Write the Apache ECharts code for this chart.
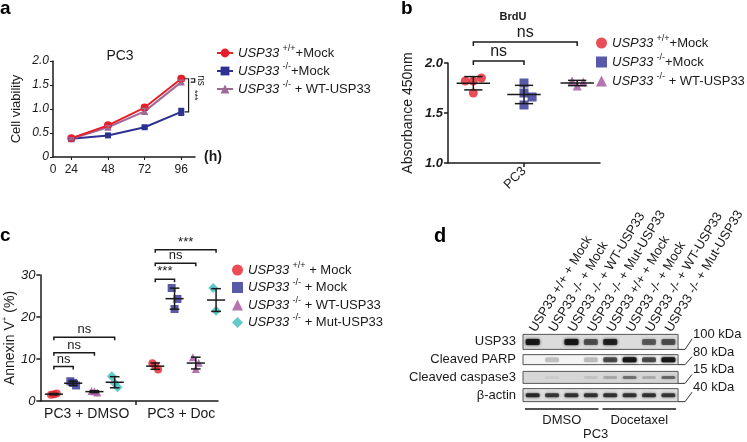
<!DOCTYPE html>
<html><head><meta charset="utf-8">
<script src="https://cdn.jsdelivr.net/npm/echarts@6/dist/echarts.min.js"></script>
<style>html,body{margin:0;padding:0;background:#fff}#c{width:747px;height:442px}</style>
</head><body><div id="c"></div>
<script>
// ================= DATA =================
// Panel a: cell viability (PC3)
const hours = [24, 48, 72, 96];
const hourTickValues = [12, 24, 48, 72, 96];
const hourTickLabels = ['0', '24', '48', '72', '96'];
const viabWT = [0.39, 0.66, 1.03, 1.63];
const viabWTErr = [0.02, 0.04, 0.05, 0.05];
const viabKO = [0.38, 0.45, 0.62, 0.94];
const viabKOErr = [0.02, 0.02, 0.02, 0.07];
const viabRes = [0.38, 0.62, 0.95, 1.56];
const viabResErr = [0.02, 0.03, 0.06, 0.04];
const sigA = [[100.8, 1.63, 0.94], [104.8, 1.63, 1.56]];
const sigALabels = ['***', 'ns'];

// Panel b: BrdU absorbance
const brduWT = [1.82, 1.82, 1.85, 1.70];
const brduKO = [1.80, 1.70, 1.66, 1.58];
const brduRes = [1.82, 1.81, 1.77];
const brduCategory = ['PC3'];
const sigB = [[0.5, 1.5, 2.02], [0.5, 2.55, 2.21]];
const sigBLabels = ['ns', 'ns'];

// Panel c: Annexin V+ (%)
const annexinGroups = ['PC3 + DMSO', 'PC3 + Doc'];
const annexinWT  = [[1.5, 1.8, 1.6], [9.0, 7.5, 8.4]];
const annexinKO  = [[4.7, 3.7, 4.3], [26.9, 24.3, 21.9]];
const annexinRes = [[2.4, 2.0, 2.3], [10.4, 9.1, 7.6]];
const annexinMut = [[5.9, 3.3, 4.2], [26.9, 23.7, 21.5]];
const sigC = [[0, 1, 8.2], [0, 2, 11.5], [0, 3, 15.2], [4, 5, 29.0], [4, 6, 32.8], [4, 7, 36.0]];
const sigCLabels = ['ns', 'ns', 'ns', '***', 'ns', '***'];

// Panel d: western blot
const laneLabels = ['USP33 +/+ + Mock', 'USP33 -/- + Mock', 'USP33 -/- + WT-USP33', 'USP33 -/- + Mut-USP33',
                    'USP33 +/+ + Mock', 'USP33 -/- + Mock', 'USP33 -/- + WT-USP33', 'USP33 -/- + Mut-USP33'];
const blotRows = ['USP33', 'Cleaved PARP', 'Cleaved caspase3', 'β-actin'];
const blotSizes = ['100 kDa', '80 kDa', '15 kDa', '40 kDa'];
const bandUSP33 = [0.92, 0.0, 0.95, 0.6, 0.85, 0.0, 0.55, 0.6];
const bandPARP = [0.0, 0.2, 0.0, 0.22, 0.65, 0.95, 0.65, 0.95];
const bandCasp3 = [0.0, 0.05, 0.0, 0.1, 0.22, 0.45, 0.2, 0.5];
const bandActin = [0.8, 0.72, 0.75, 0.75, 0.75, 0.75, 0.75, 0.72];
const treatments = ['DMSO', 'Docetaxel'];
const treatmentLanes = [[0, 3], [4, 7]];
const cellLine = 'PC3';

// legend texts: [gene, genotype, suffix]
const legendA = [['USP33', '+/+', '+Mock'], ['USP33', '-/-', '+Mock'], ['USP33', '-/-', ' + WT-USP33']];
const legendC = [['USP33', '+/+', ' + Mock'], ['USP33', '-/-', ' + Mock'], ['USP33', '-/-', ' + WT-USP33'], ['USP33', '-/-', ' + Mut-USP33']];

// ================= STYLE =================
const FONT = 'Liberation Sans, Arial, Helvetica, sans-serif';
const INK = '#1a1a1a';
const RED = '#e5202a', BLUE = '#2e3192', MAUVE = '#a06a96', MAG = '#a3519b', CYAN = '#3cbcbc';

const chart = echarts.init(document.getElementById('c'), null, {renderer: 'canvas'});

function mean(a) { return a.reduce((s, v) => s + v, 0) / a.length; }
function sd(a) { const m = mean(a); return Math.sqrt(a.reduce((s, v) => s + (v - m) * (v - m), 0) / (a.length - 1)); }

function legendRich(parts) { return '{i|' + parts[0] + '} {s|' + parts[1] + '}{n|' + parts[2] + '}'; }
const legendRichStyle = {
  i: {fontStyle: 'italic', fontSize: 13, lineHeight: 18, fontFamily: FONT, color: INK},
  s: {fontSize: 9, lineHeight: 9, verticalAlign: 'top', fontFamily: FONT, color: INK},
  n: {fontSize: 13, lineHeight: 18, fontFamily: FONT, color: INK}
};

function errRender(color) {
  return function (params, api) {
    const x = api.value(0), y = api.value(1), e = api.value(2);
    const t = api.coord([x, y + e]), b = api.coord([x, y - e]);
    const st = {stroke: color, lineWidth: 1.5};
    return {type: 'group', children: [
      {type: 'line', shape: {x1: t[0], y1: t[1], x2: b[0], y2: b[1]}, style: st},
      {type: 'line', shape: {x1: t[0] - 3, y1: t[1], x2: t[0] + 3, y2: t[1]}, style: st},
      {type: 'line', shape: {x1: b[0] - 3, y1: b[1], x2: b[0] + 3, y2: b[1]}, style: st}
    ]};
  };
}

function meanSdRender(halfW, capW, lw) {
  return function (params, api) {
    const x = api.value(0), m = api.value(1), s = api.value(2);
    const pm = api.coord([x, m]), pl = api.coord([x - halfW, m]), pr = api.coord([x + halfW, m]);
    const pt = api.coord([x, m + s]), pb = api.coord([x, m - s]);
    const cl = api.coord([x - capW, m]), cr = api.coord([x + capW, m]);
    const st = {stroke: INK, lineWidth: lw};
    return {type: 'group', children: [
      {type: 'line', shape: {x1: pl[0], y1: pm[1], x2: pr[0], y2: pm[1]}, style: st},
      {type: 'line', shape: {x1: pm[0], y1: pt[1], x2: pm[0], y2: pb[1]}, style: st},
      {type: 'line', shape: {x1: cl[0], y1: pt[1], x2: cr[0], y2: pt[1]}, style: st},
      {type: 'line', shape: {x1: cl[0], y1: pb[1], x2: cr[0], y2: pb[1]}, style: st}
    ]};
  };
}

function hBracketRender(labels, fontSize, tick) {
  return function (params, api) {
    const p1 = api.coord([api.value(0), api.value(2)]);
    const p2 = api.coord([api.value(1), api.value(2)]);
    return {type: 'group', children: [
      {type: 'polyline', shape: {points: [[p1[0], p1[1] + tick], [p1[0], p1[1]], [p2[0], p1[1]], [p2[0], p1[1] + tick]]},
       style: {stroke: INK, lineWidth: 1.5, fill: null}},
      {type: 'text', x: (p1[0] + p2[0]) / 2, y: p1[1] - 1,
       style: {text: labels[params.dataIndex], align: 'center', verticalAlign: 'bottom', fontSize: fontSize, fontFamily: FONT, fill: INK}}
    ]};
  };
}

function vBracketRender(params, api) {
  const p1 = api.coord([api.value(0), api.value(1)]);
  const p2 = api.coord([api.value(0), api.value(2)]);
  const lab = sigALabels[params.dataIndex];
  return {type: 'group', children: [
    {type: 'polyline', shape: {points: [[p1[0] - 4, p1[1]], [p1[0], p1[1]], [p1[0], p2[1]], [p1[0] - 4, p2[1]]]},
     style: {stroke: INK, lineWidth: 1.2, fill: null}},
    {type: 'text', x: p1[0] + 6, y: (p1[1] + p2[1]) / 2, rotation: -Math.PI / 2,
     style: {text: lab, align: 'center', verticalAlign: 'middle', fontSize: lab === 'ns' ? 10 : 9, fontFamily: FONT, fill: INK}}
  ]};
}

// ---- panel b points
const jitB = [[-0.16, 0, 0.16, 0], [0, 0, 0.16, 0], [-0.1, 0.12, 0]];
const bPos = [0.5, 1.5, 2.55];
const brduSets = [brduWT, brduKO, brduRes];
function bPoints(k) { return brduSets[k].map((v, i) => [bPos[k] + jitB[k][i], v]); }
const bSummary = brduSets.map((arr, k) => [bPos[k], mean(arr), sd(arr)]);

// ---- panel c points
const cBase = [0.7, 5.95];
const cSlot = [0, 1.0, 2.1, 3.15];
const jitC = [-0.15, 0.15, 0];
const annexinSets = [annexinWT, annexinKO, annexinRes, annexinMut];
function cPoints(m) {
  const out = [];
  annexinSets[m].forEach((vals, g) => vals.forEach((v, i) => out.push([cBase[g] + cSlot[m] + jitC[i], v])));
  return out;
}
const cSummary = [];
annexinSets.forEach((sets, m) => sets.forEach((vals, g) => cSummary.push([cBase[g] + cSlot[m], mean(vals), sd(vals)])));
const cMemberX = [];
cBase.forEach(b => cSlot.forEach(s => cMemberX.push(b + s)));
const sigCData = sigC.map(r => [cMemberX[r[0]], cMemberX[r[1]], r[2]]);

// ---- panel d
const bandSets = [bandUSP33, bandPARP, bandCasp3, bandActin];
const bandData = [];
bandSets.forEach((row, r) => row.forEach((v, l) => bandData.push([l, r, v])));
const frameH = [15, 10, 12, 13];
const frameFill = ['#dcdcdc', '#f3f3f3', '#d6d6d6', '#e0e0e0'];
const bandH = [6, 5, 3, 4];

const axisLine = {lineStyle: {color: INK, width: 1.5}};

const option = {
  animation: false,
  backgroundColor: '#fff',
  textStyle: {fontFamily: FONT},
  title: [{text: 'PC3', left: 115, top: 44, textAlign: 'center',
           textStyle: {fontSize: 14, fontWeight: 'normal', color: INK, fontFamily: FONT}},
          {text: 'BrdU', left: 508, top: 6, textAlign: 'center',
           textStyle: {fontSize: 11, fontWeight: 'bold', color: INK, fontFamily: FONT}}],
  grid: [
    {left: 53, top: 61, width: 142, height: 96},
    {left: 448, top: 63, width: 152, height: 100},
    {left: 34, top: 275, width: 184, height: 126},
    {left: 523, top: 333, width: 157, height: 71}
  ],
  legend: [
    {left: 216, top: 44, padding: 0, orient: 'vertical', itemGap: 2.5, itemWidth: 16, itemHeight: 11,
     data: ['aWT', 'aKO', 'aRes'], formatter: n => legendRich(legendA[['aWT', 'aKO', 'aRes'].indexOf(n)]),
     textStyle: {rich: legendRichStyle}},
    {left: 596, top: 34, padding: 0, orient: 'vertical', itemGap: 3.5, itemWidth: 11, itemHeight: 11,
     data: ['bWT', 'bKO', 'bRes'], formatter: n => legendRich(legendA[['bWT', 'bKO', 'bRes'].indexOf(n)]),
     textStyle: {rich: legendRichStyle}},
    {left: 232, top: 261, padding: 0, orient: 'vertical', itemGap: 2, itemWidth: 11, itemHeight: 11,
     data: ['cWT', 'cKO', 'cRes', 'cMut'], formatter: n => legendRich(legendC[['cWT', 'cKO', 'cRes', 'cMut'].indexOf(n)]),
     textStyle: {rich: legendRichStyle}}
  ],
  xAxis: [
    {gridIndex: 0, type: 'value', min: 12, max: 105,
     axisLine: axisLine, splitLine: {show: false},
     axisTick: {customValues: hours, length: 3, lineStyle: {color: INK}},
     axisLabel: {customValues: hourTickValues, formatter: v => hourTickLabels[hourTickValues.indexOf(v)],
                 fontSize: 12, color: INK, margin: 7},
     name: '(h)', nameLocation: 'end', nameGap: 9,
     nameTextStyle: {fontSize: 14, fontWeight: 'bold', color: INK, padding: [18, 0, 0, 0]}},
    {gridIndex: 1, type: 'value', min: 0, max: 3,
     axisLine: axisLine, splitLine: {show: false},
     axisTick: {customValues: [1.5], length: 4, lineStyle: {color: INK, width: 1.5}},
     axisLabel: {customValues: [1.5], formatter: () => brduCategory[0], rotate: 45, fontSize: 13, color: INK, margin: 6}},
    {gridIndex: 2, type: 'value', min: 0, max: 9.2,
     axisLine: axisLine, splitLine: {show: false},
     axisTick: {customValues: [4.95], length: 4, lineStyle: {color: INK, width: 1.5}},
     axisLabel: {customValues: [2.4, 7.3], formatter: v => annexinGroups[v < 4.95 ? 0 : 1], fontSize: 14, color: INK, margin: 6}},
    {gridIndex: 3, type: 'category', position: 'top', data: laneLabels,
     axisLine: {show: false}, axisTick: {show: false}, splitLine: {show: false},
     axisLabel: {rotate: -59, fontSize: 13, color: INK, margin: 2, interval: 0}}
  ],
  yAxis: [
    {gridIndex: 0, type: 'value', min: 0, max: 2, interval: 0.5,
     axisLine: {show: true, lineStyle: {color: INK, width: 1.5}}, splitLine: {show: false},
     axisTick: {show: true, length: 3, lineStyle: {color: INK}},
     axisLabel: {formatter: v => v === 0 ? '0' : v.toFixed(1), fontStyle: 'italic', fontSize: 12, color: INK, margin: 4},
     name: 'Cell viability', nameLocation: 'middle', nameGap: 30,
     nameTextStyle: {fontSize: 13, color: INK}},
    {gridIndex: 1, type: 'value', min: 1, max: 2, interval: 0.5,
     axisLine: {show: true, lineStyle: {color: INK, width: 1.5}}, splitLine: {show: false},
     axisTick: {show: true, length: 4, lineStyle: {color: INK, width: 1.5}},
     axisLabel: {formatter: v => v.toFixed(1), fontStyle: 'italic', fontWeight: 'bold', fontSize: 13, color: INK, margin: 5},
     name: 'Absorbance 450nm', nameLocation: 'middle', nameGap: 33,
     nameTextStyle: {fontSize: 14, color: INK}},
    {gridIndex: 2, type: 'value', min: 0, max: 30, interval: 10,
     axisLine: {show: true, lineStyle: {color: INK, width: 1.5}}, splitLine: {show: false},
     axisTick: {show: true, length: 4, lineStyle: {color: INK, width: 1.5}},
     axisLabel: {fontStyle: 'italic', fontSize: 13, color: INK, margin: 5},
     name: '{a|Annexin V}{s|+}{a| (%)}', nameLocation: 'middle', nameGap: 19,
     nameTextStyle: {rich: {a: {fontSize: 14, color: INK, fontFamily: FONT, lineHeight: 18},
                            s: {fontSize: 8, color: INK, fontFamily: FONT, lineHeight: 10, verticalAlign: 'top'}}}},
    {gridIndex: 3, type: 'category', data: blotRows, inverse: true,
     axisLine: {show: false}, axisTick: {show: false}, splitLine: {show: false},
     axisLabel: {fontSize: 13, color: INK, margin: 7}},
    {gridIndex: 3, type: 'category', data: blotSizes, inverse: true, position: 'right',
     axisLine: {show: false}, axisTick: {show: false}, splitLine: {show: false},
     axisLabel: {fontSize: 13, color: INK, margin: 15, verticalAlign: 'bottom', padding: [0, 0, 1, 0]}}
  ],
  series: [
    // ---- panel a
    {name: 'aWT', type: 'line', xAxisIndex: 0, yAxisIndex: 0, data: hours.map((h, i) => [h, viabWT[i]]),
     color: RED, symbol: 'circle', symbolSize: 8, lineStyle: {width: 2}, z: 4},
    {name: 'aKO', type: 'line', xAxisIndex: 0, yAxisIndex: 0, data: hours.map((h, i) => [h, viabKO[i]]),
     color: BLUE, symbol: 'rect', symbolSize: 6, lineStyle: {width: 2}, z: 3},
    {name: 'aRes', type: 'line', xAxisIndex: 0, yAxisIndex: 0, data: hours.map((h, i) => [h, viabRes[i]]),
     color: MAUVE, symbol: 'triangle', symbolSize: 7, lineStyle: {width: 2}, z: 3},
    {type: 'custom', xAxisIndex: 0, yAxisIndex: 0, renderItem: errRender(RED), z: 5,
     data: hours.map((h, i) => [h, viabWT[i], viabWTErr[i]])},
    {type: 'custom', xAxisIndex: 0, yAxisIndex: 0, renderItem: errRender(BLUE), z: 5,
     data: hours.map((h, i) => [h, viabKO[i], viabKOErr[i]])},
    {type: 'custom', xAxisIndex: 0, yAxisIndex: 0, renderItem: errRender(MAUVE), z: 5,
     data: hours.map((h, i) => [h, viabRes[i], viabResErr[i]])},
    {type: 'custom', xAxisIndex: 0, yAxisIndex: 0, renderItem: vBracketRender, data: sigA, clip: false, z: 6},
    // ---- panel b
    {name: 'bWT', type: 'scatter', xAxisIndex: 1, yAxisIndex: 1, data: bPoints(0), color: RED, symbol: 'circle', symbolSize: 9},
    {name: 'bKO', type: 'scatter', xAxisIndex: 1, yAxisIndex: 1, data: bPoints(1), color: BLUE, symbol: 'rect', symbolSize: 9},
    {name: 'bRes', type: 'scatter', xAxisIndex: 1, yAxisIndex: 1, data: bPoints(2), color: MAG, symbol: 'triangle', symbolSize: 9},
    {type: 'custom', xAxisIndex: 1, yAxisIndex: 1, renderItem: meanSdRender(0.33, 0.18, 1.5), data: bSummary, z: 5},
    {type: 'custom', xAxisIndex: 1, yAxisIndex: 1, renderItem: hBracketRender(sigBLabels, 16, 4), data: sigB, clip: false, z: 6},
    // ---- panel c
    {name: 'cWT', type: 'scatter', xAxisIndex: 2, yAxisIndex: 2, data: cPoints(0), color: RED, symbol: 'circle', symbolSize: 8},
    {name: 'cKO', type: 'scatter', xAxisIndex: 2, yAxisIndex: 2, data: cPoints(1), color: BLUE, symbol: 'rect', symbolSize: 8},
    {name: 'cRes', type: 'scatter', xAxisIndex: 2, yAxisIndex: 2, data: cPoints(2), color: MAG, symbol: 'triangle', symbolSize: 8},
    {name: 'cMut', type: 'scatter', xAxisIndex: 2, yAxisIndex: 2, data: cPoints(3), color: CYAN, symbol: 'diamond', symbolSize: 10},
    {type: 'custom', xAxisIndex: 2, yAxisIndex: 2, renderItem: meanSdRender(0.47, 0.25, 1.5), data: cSummary, z: 5},
    {type: 'custom', xAxisIndex: 2, yAxisIndex: 2, renderItem: hBracketRender(sigCLabels, 13, 3), data: sigCData, clip: false, z: 6},
    // ---- panel d : frames + connectors
    {type: 'custom', xAxisIndex: 3, yAxisIndex: 3, clip: false, z: 2,
     data: blotRows.map((r, i) => [0, i]),
     renderItem: function (params, api) {
       const cs = params.coordSys;
       const r = api.value(1);
       const c = api.coord([0, r]);
       const h = frameH[r];
       const top = c[1] - h / 2, bot = c[1] + h / 2, right = cs.x + cs.width;
       return {type: 'group', children: [
         {type: 'rect', shape: {x: cs.x, y: top, width: cs.width, height: h},
          style: {fill: frameFill[r], stroke: '#555', lineWidth: 1}},
         {type: 'polyline', shape: {points: [[right, bot], [right + 7, bot], [right + 14, c[1] - 3]]},
          style: {stroke: '#333', lineWidth: 1, fill: null}}
       ]};
     }},
    // bands
    {type: 'custom', xAxisIndex: 3, yAxisIndex: 3, z: 3, data: bandData,
     renderItem: function (params, api) {
       const l = api.value(0), r = api.value(1), v = api.value(2);
       const c = api.coord([l, r]);
       const w = api.size([1, 0])[0] * 0.72;
       const h = bandH[r];
       return {type: 'rect', shape: {x: c[0] - w / 2, y: c[1] - h / 2, width: w, height: h, r: 1.5},
               style: {fill: '#151515', opacity: v, shadowBlur: 3, shadowColor: 'rgba(0,0,0,' + v + ')'}};
     }},
    // treatment group lines
    {type: 'custom', xAxisIndex: 3, yAxisIndex: 3, clip: false, z: 3,
     data: treatmentLanes.map(t => [t[0], 3, t[1]]),
     renderItem: function (params, api) {
       const cs = params.coordSys;
       const half = api.size([1, 0])[0] / 2;
       const p1 = api.coord([api.value(0), 3]), p2 = api.coord([api.value(2), 3]);
       const y = cs.y + cs.height + 5;
       const x1 = p1[0] - half + 2, x2 = p2[0] + half - 2;
       return {type: 'group', children: [
         {type: 'line', shape: {x1: x1, y1: y, x2: x2, y2: y}, style: {stroke: INK, lineWidth: 1.5}},
         {type: 'text', x: (x1 + x2) / 2, y: y + 11,
          style: {text: treatments[params.dataIndex], align: 'center', verticalAlign: 'middle', fontSize: 13, fontFamily: FONT, fill: INK}}
       ]};
     }}
  ],
  graphic: [
    {type: 'text', left: 0, top: -1, style: {text: 'a', fontSize: 19, fontWeight: 'bold', fontFamily: FONT, fill: '#000'}},
    {type: 'text', left: 401, top: -1, style: {text: 'b', fontSize: 19, fontWeight: 'bold', fontFamily: FONT, fill: '#000'}},
    {type: 'text', left: 0, top: 226, style: {text: 'c', fontSize: 19, fontWeight: 'bold', fontFamily: FONT, fill: '#000'}},
    {type: 'text', left: 434, top: 226, style: {text: 'd', fontSize: 20, fontWeight: 'bold', fontFamily: FONT, fill: '#000'}},
    {type: 'text', left: 583, top: 428, style: {text: cellLine, fontSize: 13, fontFamily: FONT, fill: INK}}
  ]
};
chart.setOption(option);
</script>
</body></html>
